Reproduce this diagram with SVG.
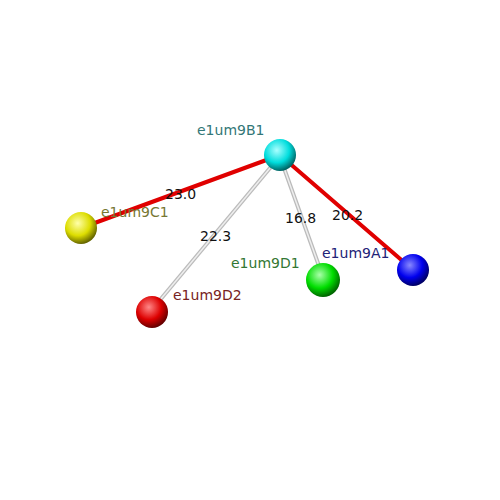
<svg xmlns="http://www.w3.org/2000/svg" width="500" height="500" viewBox="0 0 500 500">
<style>
text{font-family:"DejaVu Sans",sans-serif;font-size:14px}
.lbl{fill:#111}
.red{stroke:#e00000;stroke-width:4;stroke-linecap:round}
.grey{stroke:#bbbbbb;stroke-width:4;stroke-linecap:round}
.grey2{stroke:#eeeeee;stroke-width:1.5}
</style>
<defs>
<radialGradient id="gc" cx="0.4" cy="0.35" r="0.65"><stop offset="0" stop-color="#aaffff"/><stop offset="0.6" stop-color="#00dddd"/><stop offset="1" stop-color="#006666"/></radialGradient>
<radialGradient id="gy" cx="0.4" cy="0.35" r="0.65"><stop offset="0" stop-color="#ffffaa"/><stop offset="0.6" stop-color="#dddd00"/><stop offset="1" stop-color="#666600"/></radialGradient>
<radialGradient id="gr" cx="0.4" cy="0.35" r="0.65"><stop offset="0" stop-color="#ff8888"/><stop offset="0.6" stop-color="#dd0000"/><stop offset="1" stop-color="#660000"/></radialGradient>
<radialGradient id="gg" cx="0.4" cy="0.35" r="0.65"><stop offset="0" stop-color="#aaffaa"/><stop offset="0.6" stop-color="#00dd00"/><stop offset="1" stop-color="#006600"/></radialGradient>
<radialGradient id="gb" cx="0.4" cy="0.35" r="0.65"><stop offset="0" stop-color="#8888ff"/><stop offset="0.6" stop-color="#0000ee"/><stop offset="1" stop-color="#000066"/></radialGradient>
</defs>
<rect width="500" height="500" fill="#ffffff"/>
<g id="connectors">
<line class="grey" x1="270" y1="168" x2="155" y2="306"/>
<line class="grey2" x1="270" y1="168" x2="155" y2="306"/>
<line class="grey" x1="284" y1="168" x2="319" y2="266"/>
<line class="grey2" x1="284" y1="168" x2="319" y2="266"/>
<line class="red" x1="280" y1="155" x2="81" y2="228"/>
<line class="red" x1="280" y1="155" x2="413" y2="270"/>
<text class="lbl" x="165" y="199">23.0</text>
<text class="lbl" x="200" y="241">22.3</text>
<text class="lbl" x="285" y="223">16.8</text>
<text class="lbl" x="332" y="220">20.2</text>
</g>
<g id="e1um9B1"><circle cx="280" cy="155" r="16" fill="url(#gc)"/><text x="197" y="135" fill="#337777">e1um9B1</text></g>
<g id="e1um9C1"><circle cx="81" cy="228" r="16" fill="url(#gy)"/><text x="101" y="217" fill="#777733">e1um9C1</text></g>
<g id="e1um9D2"><circle cx="152" cy="312" r="16" fill="url(#gr)"/><text x="173" y="300" fill="#772222">e1um9D2</text></g>
<g id="e1um9D1"><circle cx="323" cy="280" r="17" fill="url(#gg)"/><text x="231" y="268" fill="#337733">e1um9D1</text></g>
<g id="e1um9A1"><circle cx="413" cy="270" r="16" fill="url(#gb)"/><text x="322" y="258" fill="#222277">e1um9A1</text></g>
</svg>
